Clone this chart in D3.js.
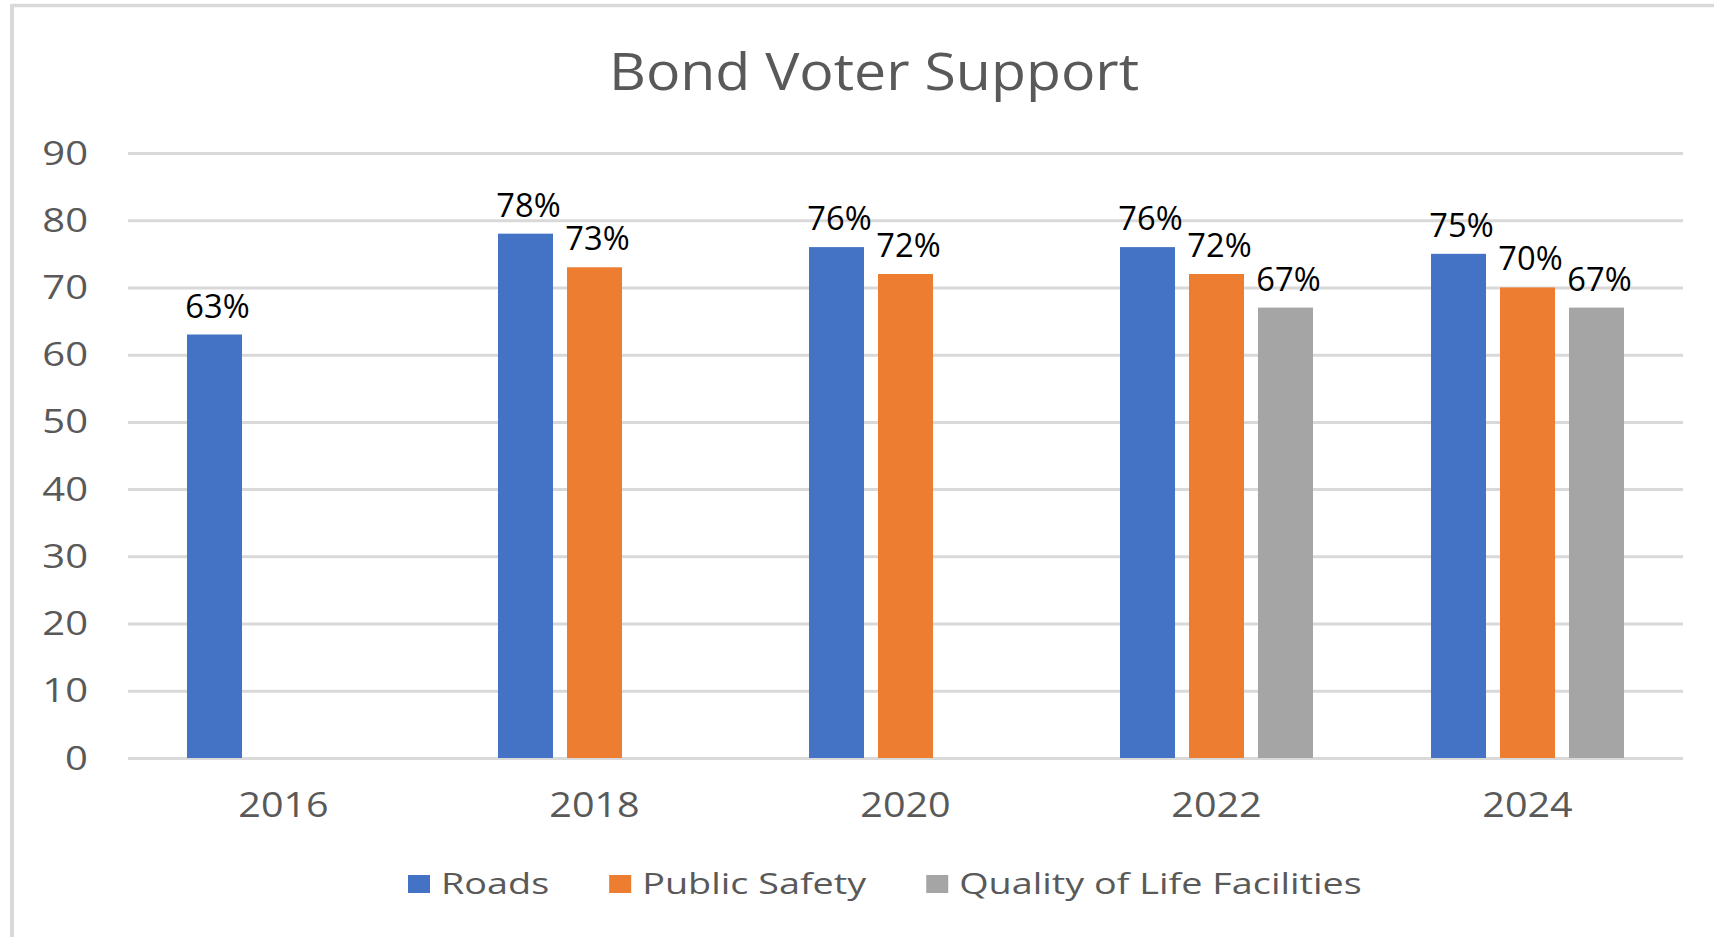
<!DOCTYPE html>
<html>
<head>
<meta charset="utf-8">
<script src="https://cdn.jsdelivr.net/npm/d3@7"></script>
<style>
  html, body { margin: 0; padding: 0; background: #fff; }
  svg { display: block; }
</style>
</head>
<body>
<svg id="chart" width="1714" height="937"></svg>
<script>
// ---- data ----
const years = ["2016", "2018", "2020", "2022", "2024"];
const seriesNames = ["Roads", "Public Safety", "Quality of Life Facilities"];
const roads = [63, 78, 76, 76, 75];
const publicSafety = [null, 73, 72, 72, 70];
const qualityOfLife = [null, null, null, 67, 67];
const yTicks = [0, 10, 20, 30, 40, 50, 60, 70, 80, 90];
const colors = ["#4472C4", "#ED7D31", "#A5A5A5"];
const titleText = "Bond Voter Support";

const seriesValues = [roads, publicSafety, qualityOfLife];

const svg = d3.select("#chart");
const font = "'Open Sans', 'Noto Sans', sans-serif";
const textGray = "#595959";
const gridColor = "#D9D9D9";

// border (cropped chart frame)
svg.append("line").attr("x1", 12).attr("x2", 1714).attr("y1", 5.5).attr("y2", 5.5)
  .attr("stroke", gridColor).attr("stroke-width", 3.5);
svg.append("line").attr("x1", 12).attr("x2", 12).attr("y1", 4).attr("y2", 937)
  .attr("stroke", gridColor).attr("stroke-width", 4);

// scales
const plotLeft = 128, plotRight = 1683, plotTop = 153, plotBottom = 758;
const y = d3.scaleLinear().domain([0, 90]).range([plotBottom, plotTop]);
const x0 = d3.scaleBand().domain(years).range([plotLeft, plotRight]).padding(0);
const x1 = d3.scaleBand().domain(seriesNames)
  .range([(x0.bandwidth() - 193) / 2, (x0.bandwidth() + 193) / 2])
  .paddingInner(0.203).paddingOuter(0);

// gridlines
const grid = svg.append("g")
  .attr("transform", `translate(${plotLeft},0)`)
  .call(d3.axisLeft(y).tickValues(yTicks).tickSize(-(plotRight - plotLeft)).tickFormat(""));
grid.select(".domain").remove();
grid.selectAll(".tick line").attr("stroke", gridColor).attr("stroke-width", 3);

// y tick labels
svg.append("g").selectAll("text").data(yTicks).join("text")
  .attr("transform", d => `translate(88,${y(d) + 11.5}) scale(1.25,1)`)
  .attr("text-anchor", "end")
  .attr("font-family", font).attr("font-size", 32)
  .attr("fill", textGray)
  .text(d => d);

// x tick labels
svg.append("g").selectAll("text").data(years).join("text")
  .attr("transform", d => `translate(${x0(d) + x0.bandwidth() / 2},817) scale(1.13,1)`)
  .attr("text-anchor", "middle")
  .attr("font-family", font).attr("font-size", 35)
  .attr("fill", textGray)
  .text(d => d);

// bars
const barData = [];
years.forEach((yr, i) => {
  seriesNames.forEach((s, j) => {
    const v = seriesValues[j][i];
    if (v !== null && v !== undefined) barData.push({ year: yr, series: s, idx: j, value: v });
  });
});

svg.append("g").selectAll("rect").data(barData).join("rect")
  .attr("x", d => x0(d.year) + x1(d.series))
  .attr("y", d => y(d.value))
  .attr("width", x1.bandwidth())
  .attr("height", d => y(0) - y(d.value))
  .attr("fill", d => colors[d.idx]);

// data labels
svg.append("g").selectAll("text").data(barData).join("text")
  .attr("transform", d => `translate(${x0(d.year) + x1(d.series) + x1.bandwidth() / 2 + 3},${y(d.value) - 17}) scale(1.02,1.04)`)
  .attr("text-anchor", "middle")
  .attr("font-family", font).attr("font-size", 32)
  .attr("fill", "#000")
  .text(d => d.value + "%");

// title
svg.append("text")
  .attr("transform", "translate(874,90) scale(1.1,1)")
  .attr("text-anchor", "middle")
  .attr("font-family", font).attr("font-size", 52)
  .attr("fill", textGray)
  .text(titleText);

// legend
const legend = svg.append("g");
const sx = 1.26;
let cursor = 0;
seriesNames.forEach((s, j) => {
  const g = legend.append("g");
  g.append("rect").attr("x", 0).attr("y", -19).attr("width", 22).attr("height", 18)
    .attr("fill", colors[j]);
  const t = g.append("text")
    .attr("transform", `translate(33,0) scale(${sx},1)`)
    .attr("font-family", font).attr("font-size", 30)
    .attr("fill", textGray)
    .text(s);
  const w = 33 + t.node().getComputedTextLength() * sx;
  g.attr("transform", `translate(${cursor},0)`);
  cursor += w + 60;
});
legend.attr("transform", `translate(408,894)`);
</script>
</body>
</html>
